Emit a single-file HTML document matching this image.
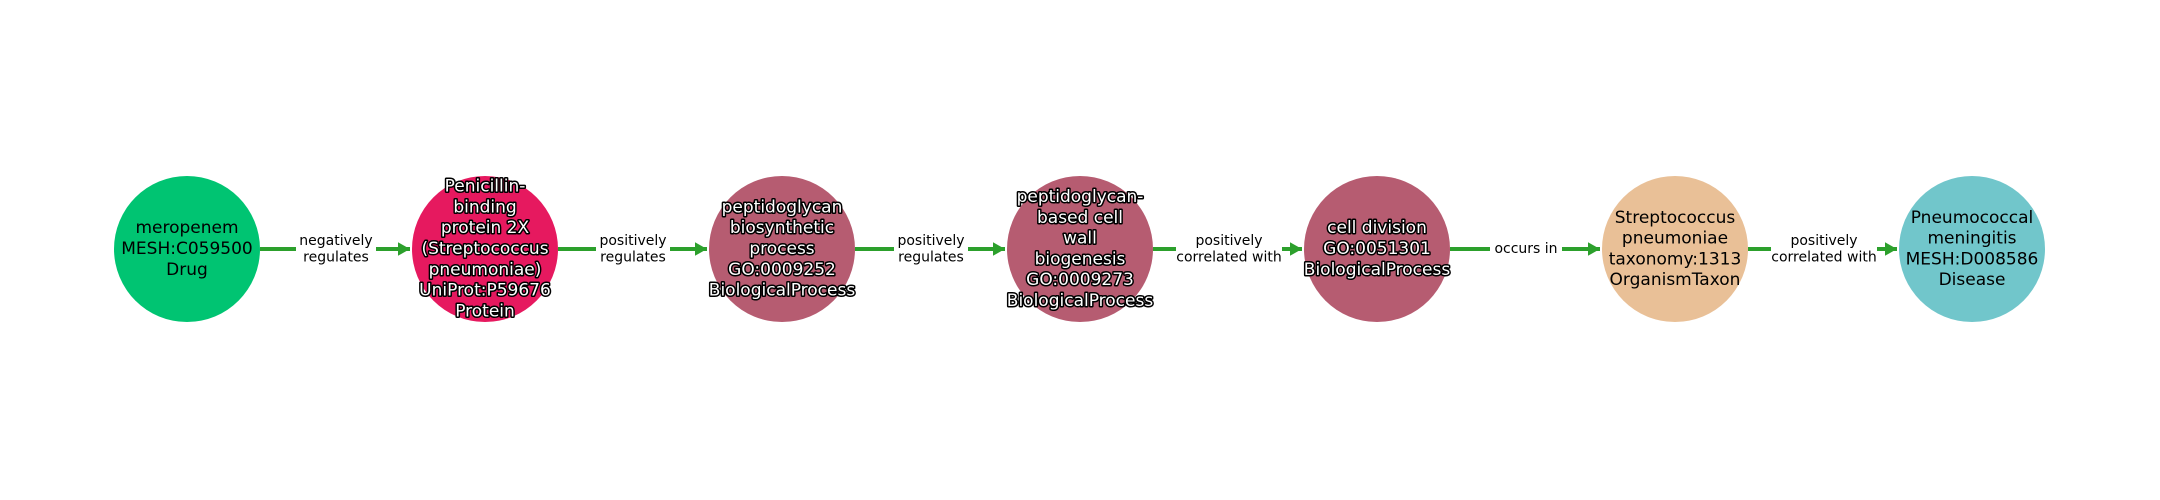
<!DOCTYPE html>
<html><head><meta charset="utf-8"><style>
html,body{margin:0;padding:0;background:#fff;width:2160px;height:500px;overflow:hidden}
text{font-family:"DejaVu Sans","Liberation Sans",sans-serif}
.n{font-size:17px;fill:#000;text-anchor:middle;dominant-baseline:central}
.w{font-size:17px;fill:#fff;stroke:#000;stroke-width:3px;paint-order:stroke;stroke-linejoin:round;text-anchor:middle;dominant-baseline:central}
.e{font-size:14px;fill:#000;text-anchor:middle;dominant-baseline:central}
</style></head><body>
<svg width="2160" height="500" viewBox="0 0 2160 500" xmlns="http://www.w3.org/2000/svg">
<defs><marker id="a" markerWidth="4" markerHeight="4" refX="3" refY="2" orient="auto" markerUnits="strokeWidth"><path d="M0,0.3 L3,2 L0,3.7 Z" fill="#2ca02c"/></marker></defs>
<g stroke="#2ca02c" stroke-width="4" fill="none">
<line x1="260" y1="249" x2="410" y2="249" marker-end="url(#a)"/>
<line x1="558" y1="249" x2="707" y2="249" marker-end="url(#a)"/>
<line x1="855" y1="249" x2="1005" y2="249" marker-end="url(#a)"/>
<line x1="1153" y1="249" x2="1302" y2="249" marker-end="url(#a)"/>
<line x1="1450" y1="249" x2="1600" y2="249" marker-end="url(#a)"/>
<line x1="1748" y1="249" x2="1897" y2="249" marker-end="url(#a)"/>
</g>
<g fill="#fff">
<rect x="296" y="232" width="80" height="34"/>
<rect x="596" y="232" width="74" height="34"/>
<rect x="894" y="232" width="74" height="34"/>
<rect x="1176" y="232" width="106" height="34"/>
<rect x="1490" y="238" width="72" height="22"/>
<rect x="1771" y="232" width="106" height="34"/>
</g>
<text class="e" x="336" y="241">negatively</text><text class="e" x="336" y="257.5">regulates</text>
<text class="e" x="633" y="241">positively</text><text class="e" x="633" y="257.5">regulates</text>
<text class="e" x="931" y="241">positively</text><text class="e" x="931" y="257.5">regulates</text>
<text class="e" x="1229" y="241">positively</text><text class="e" x="1229" y="257.5">correlated with</text>
<text class="e" x="1526" y="249">occurs in</text>
<text class="e" x="1824" y="241">positively</text><text class="e" x="1824" y="257.5">correlated with</text>

<circle cx="187" cy="249" r="73" fill="#00c472"/>
<circle cx="485" cy="249" r="73" fill="#e6195f"/>
<circle cx="782" cy="249" r="73" fill="#b65c71"/>
<circle cx="1080" cy="249" r="73" fill="#b65c71"/>
<circle cx="1377" cy="249" r="73" fill="#b65c71"/>
<circle cx="1675" cy="249" r="73" fill="#e9c097"/>
<circle cx="1972" cy="249" r="73" fill="#71c6cb"/>

<text class="n" x="187" y="228">meropenem</text>
<text class="n" x="187" y="249">MESH:C059500</text>
<text class="n" x="187" y="270">Drug</text>

<text class="w" x="485" y="186.5">Penicillin-</text>
<text class="w" x="485" y="207.3">binding</text>
<text class="w" x="485" y="228.2">protein 2X</text>
<text class="w" x="485" y="249">(Streptococcus</text>
<text class="w" x="485" y="269.8">pneumoniae)</text>
<text class="w" x="485" y="290.7">UniProt:P59676</text>
<text class="w" x="485" y="311.5">Protein</text>

<text class="w" x="782" y="207.3">peptidoglycan</text>
<text class="w" x="782" y="228.2">biosynthetic</text>
<text class="w" x="782" y="249">process</text>
<text class="w" x="782" y="269.8">GO:0009252</text>
<text class="w" x="782" y="290.7">BiologicalProcess</text>

<text class="w" x="1080" y="197">peptidoglycan-</text>
<text class="w" x="1080" y="217.8">based cell</text>
<text class="w" x="1080" y="238.6">wall</text>
<text class="w" x="1080" y="259.4">biogenesis</text>
<text class="w" x="1080" y="280.2">GO:0009273</text>
<text class="w" x="1080" y="301">BiologicalProcess</text>

<text class="w" x="1377" y="228.2">cell division</text>
<text class="w" x="1377" y="249">GO:0051301</text>
<text class="w" x="1377" y="269.8">BiologicalProcess</text>

<text class="n" x="1675" y="217.8">Streptococcus</text>
<text class="n" x="1675" y="238.6">pneumoniae</text>
<text class="n" x="1675" y="259.4">taxonomy:1313</text>
<text class="n" x="1675" y="280.2">OrganismTaxon</text>

<text class="n" x="1972" y="217.8">Pneumococcal</text>
<text class="n" x="1972" y="238.6">meningitis</text>
<text class="n" x="1972" y="259.4">MESH:D008586</text>
<text class="n" x="1972" y="280.2">Disease</text>
</svg>
</body></html>
